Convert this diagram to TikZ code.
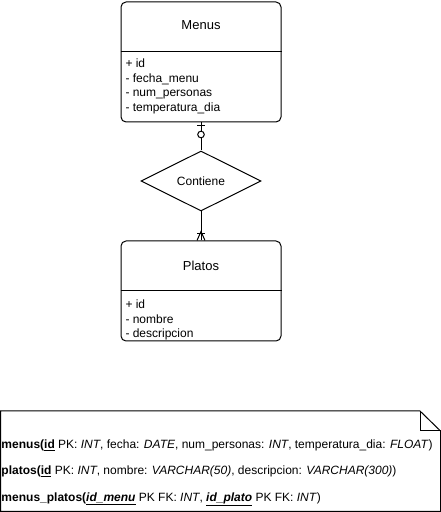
\documentclass[tikz,border=0pt]{standalone}
\usepackage{fontspec}
\setmainfont{Liberation Sans}
\usetikzlibrary{shapes.geometric}

\tikzset{
  entity/.style={draw, rounded corners=5pt, minimum width=160pt, inner sep=0pt},
  etitle/.style={inner sep=0pt, font=\fontsize{13}{15}\selectfont},
  attr/.style={anchor=base west, inner sep=0pt, font=\fontsize{12}{14}\selectfont},
  relation/.style={draw, diamond, aspect=2, minimum width=120pt, minimum height=60pt,
    inner sep=0pt, font=\fontsize{12}{14}\selectfont},
  notetext/.style={anchor=base west, inner sep=0pt, font=\fontsize{12}{14}\selectfont},
}

\begin{document}
\begin{tikzpicture}[x=1pt, y=1pt, line width=1pt]
  \useasboundingbox (0,0) rectangle (441,512);

  % entities
  \node[entity, minimum height=120pt] (menus) at (201,450) {};
  \draw ([yshift=-50pt]menus.north west) -- ([yshift=-50pt]menus.north east);
  \node[etitle] at ([yshift=-24pt]menus.north) {Menus};
  \node[attr] at (125,444) {+ id};
  \node[attr] at (125,429.6) {- fecha\_menu};
  \node[attr] at (125,415.2) {- num\_personas};
  \node[attr] at (125,400.8) {- temperatura\_dia};

  \node[entity, minimum height=100pt] (platos) at (201,221) {};
  \draw ([yshift=-50pt]platos.north west) -- ([yshift=-50pt]platos.north east);
  \node[etitle] at ([yshift=-25pt]platos.north) {Platos};
  \node[attr] at (125,203) {+ id};
  \node[attr] at (125,188.6) {- nombre};
  \node[attr] at (125,174.2) {- descripcion};

  % relation
  \node[relation] (contiene) at (201,331) {Contiene};

  \draw (menus) -- (contiene);
  \draw ([xshift=-4pt,yshift=-3pt]menus.south) -- ([xshift=4pt,yshift=-3pt]menus.south);
  \draw[fill=white] ([yshift=-12pt]menus.south) circle (3.3pt);

  \draw (contiene) -- (platos);
  \draw ([xshift=-4pt,yshift=7pt]platos.north) -- ([xshift=4pt,yshift=7pt]platos.north);
  \draw ([xshift=-4pt]platos.north) -- ([yshift=9pt]platos.north) -- ([xshift=4pt]platos.north);

  % note
  \draw (0.5,101) -- (420,101) -- (440.5,81) -- (440.5,0.5) -- (0.5,0.5) -- cycle;
  \draw (420,101) -- (420,81) -- (440.5,81);
  \node[notetext] at (1,63.7) {\textbf{menus(\underline{id}}
    PK: \textit{INT}, fecha: \textit{DATE}, num\_personas: \textit{INT},
    temperatura\_dia: \textit{FLOAT})};
  \node[notetext] at (1,37) {\textbf{platos(\underline{id}}
    PK: \textit{INT}, nombre: \textit{VARCHAR(50)}, descripcion: \textit{VARCHAR(300)})};
  \node[notetext] at (1,10.3) {\textbf{menus\_platos(\underline{\textit{id\_menu}}}
    PK FK: \textit{INT}, \textbf{\underline{\textit{id\_plato}}} PK FK: \textit{INT})};
\end{tikzpicture}
\end{document}
